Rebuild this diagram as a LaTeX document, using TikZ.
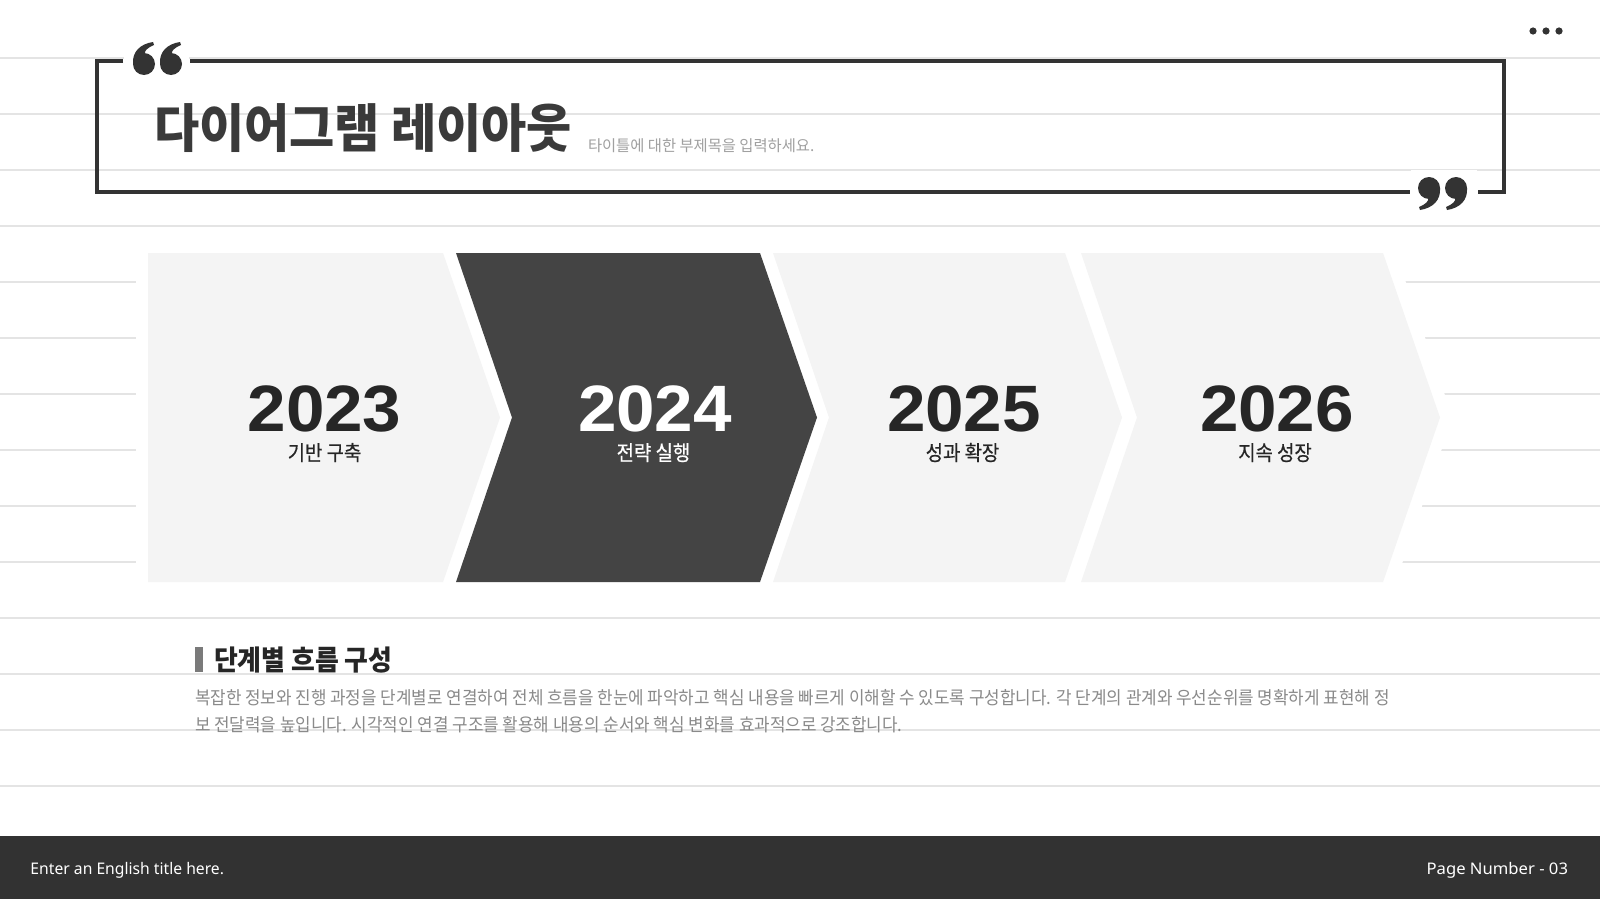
\documentclass[tikz,border=0pt]{standalone}
\usepackage{fontspec}
\usepackage{graphicx}
\setmainfont{Noto Sans}
\newfontfamily\kr{Noto Sans CJK KR}
\newfontfamily\krm{Noto Sans CJK KR}[FakeBold=0.5]
\newfontfamily\yearf{Liberation Sans}
\newcommand{\ksc}[2]{\scalebox{#1}[1]{#2}}
\definecolor{gridc}{HTML}{E4E4E4}
\definecolor{framec}{HTML}{333333}
\definecolor{chl}{HTML}{F4F4F4}
\definecolor{chd}{HTML}{444444}
\definecolor{yearc}{HTML}{262626}
\definecolor{titlec}{HTML}{3A3A3A}
\definecolor{subc}{HTML}{A0A0A0}
\definecolor{parac}{HTML}{8A8A8A}
\definecolor{barc}{HTML}{7A7A7A}
\definecolor{footc}{HTML}{323232}
\tikzset{
  gridline/.style={draw=gridc, line width=1.4pt},
  framel/.style={draw=framec, line width=3.5pt, line join=miter, line cap=butt},
  halo/.style={draw=white, fill=white, line width=24pt, line join=round},
  lightch/.style={fill=chl},
  darkch/.style={fill=chd},
  yeartxt/.style={anchor=base, text=yearc, text depth=0pt, font=\yearf\bfseries\fontsize{65.6}{70}\selectfont},
  labtxt/.style={anchor=base, text=yearc, font=\krm\fontsize{21}{24}\selectfont},
  paratxt/.style={anchor=base west, text=parac, font=\kr\fontsize{18}{22}\selectfont},
  foottxt/.style={text=white, font=\fontsize{16}{19}\selectfont},
  qmark/.pic={
    \fill[framec] (0,0) circle (11pt);
    \fill[framec] (-11,0) .. controls (-12,-12) and (-4,-20) .. (9,-22) -- (10,-19) .. controls (3,-16) and (0,-13) .. (1,-10) -- (0,0) -- cycle;
  }
}
\begin{document}
\begin{tikzpicture}[x=1pt,y=-1pt,inner sep=0pt,outer sep=0pt]
\fill[white] (0,0) rectangle (1600,899);
\useasboundingbox (0,0) rectangle (1600,899);
% background lines
\foreach \k in {0,...,13} \draw[gridline] (0,58+56*\k) -- (1600,58+56*\k);
% frame
\draw[framel] (123,61) -- (97,61) -- (97,192) -- (1410,192);
\draw[framel] (1478,192) -- (1504,192) -- (1504,61) -- (190,61);
% quote marks
\fill[white] (124,36) rectangle (189,80);
\pic at (144,64) {qmark};
\pic at (171,64) {qmark};
\fill[white] (1411,170) rectangle (1477,222);
\pic[rotate=180] at (1429,188) {qmark};
\pic[rotate=180] at (1456,188) {qmark};
% dots
\fill[framec] (1533,31) circle (3.6pt) (1546,31) circle (3.6pt) (1559,31) circle (3.6pt);
% titles
\node[anchor=base west, text=titlec] (title) at (154,147) {\kr\bfseries\fontsize{52}{60}\selectfont\ksc{0.945}{다이어그램 레이아웃}};
\node[anchor=base west, text=subc] (subtitle) at (588,151) {\kr\fontsize{15.5}{18}\selectfont\ksc{0.99}{타이틀에 대한 부제목을 입력하세요.}};
% chevrons halo
\path[halo] (148,253) -- (443,253) -- (500,417.5) -- (443,582) -- (148,582) -- cycle;
\path[halo] (456,253) -- (760,253) -- (817,417.5) -- (760,582) -- (456,582) -- (512,417.5) -- cycle;
\path[halo] (773,253) -- (1065,253) -- (1122,417.5) -- (1065,582) -- (773,582) -- (829,417.5) -- cycle;
\path[halo] (1081,253) -- (1383,253) -- (1440,417.5) -- (1383,582) -- (1081,582) -- (1137,417.5) -- cycle;
% chevrons
\fill[lightch] (148,253) -- (443,253) -- (500,417.5) -- (443,582) -- (148,582) -- cycle;
\fill[darkch] (456,253) -- (760,253) -- (817,417.5) -- (760,582) -- (456,582) -- (512,417.5) -- cycle;
\fill[lightch] (773,253) -- (1065,253) -- (1122,417.5) -- (1065,582) -- (773,582) -- (829,417.5) -- cycle;
\fill[lightch] (1081,253) -- (1383,253) -- (1440,417.5) -- (1383,582) -- (1081,582) -- (1137,417.5) -- cycle;
% years
\node[yeartxt] (y1) at (324.5,431) {\ksc{1.055}{2023}};
\node[yeartxt, text=white] (y2) at (655,431) {\ksc{1.055}{2024}};
\node[yeartxt] (y3) at (964,431) {\ksc{1.055}{2025}};
\node[yeartxt] (y4) at (1277,431) {\ksc{1.055}{2026}};
\node[labtxt] (l1) at (324.5,460.5) {\ksc{0.897}{기반 구축}};
\node[labtxt, text=white] (l2) at (653.5,460.5) {\ksc{0.897}{전략 실행}};
\node[labtxt] (l3) at (962.5,460.5) {\ksc{0.897}{성과 확장}};
\node[labtxt] (l4) at (1275,460.5) {\ksc{0.897}{지속 성장}};
% section heading
\fill[barc] (195,647) rectangle (203,672);
\node[anchor=base west, text=yearc] (head) at (214,670) {\kr\bfseries\fontsize{28}{32}\selectfont\ksc{0.924}{단계별 흐름 구성}};
\node[paratxt] (p1) at (195,704.5) {\ksc{0.937}{복잡한 정보와 진행 과정을 단계별로 연결하여 전체 흐름을 한눈에 파악하고 핵심 내용을 빠르게 이해할 수 있도록 구성합니다. 각 단계의 관계와 우선순위를 명확하게 표현해 정}};
\node[paratxt] (p2) at (195,731.5) {\ksc{0.937}{보 전달력을 높입니다. 시각적인 연결 구조를 활용해 내용의 순서와 핵심 변화를 효과적으로 강조합니다.}};
% footer
\fill[footc] (0,836) rectangle (1600,899);
\node[foottxt, anchor=base west] (fl) at (30.5,874) {\ksc{0.98}{Enter an English title here.}};
\node[foottxt, anchor=base east] (fr) at (1568,874) {\ksc{1.04}{Page Number - 03}};
\end{tikzpicture}
\end{document}
